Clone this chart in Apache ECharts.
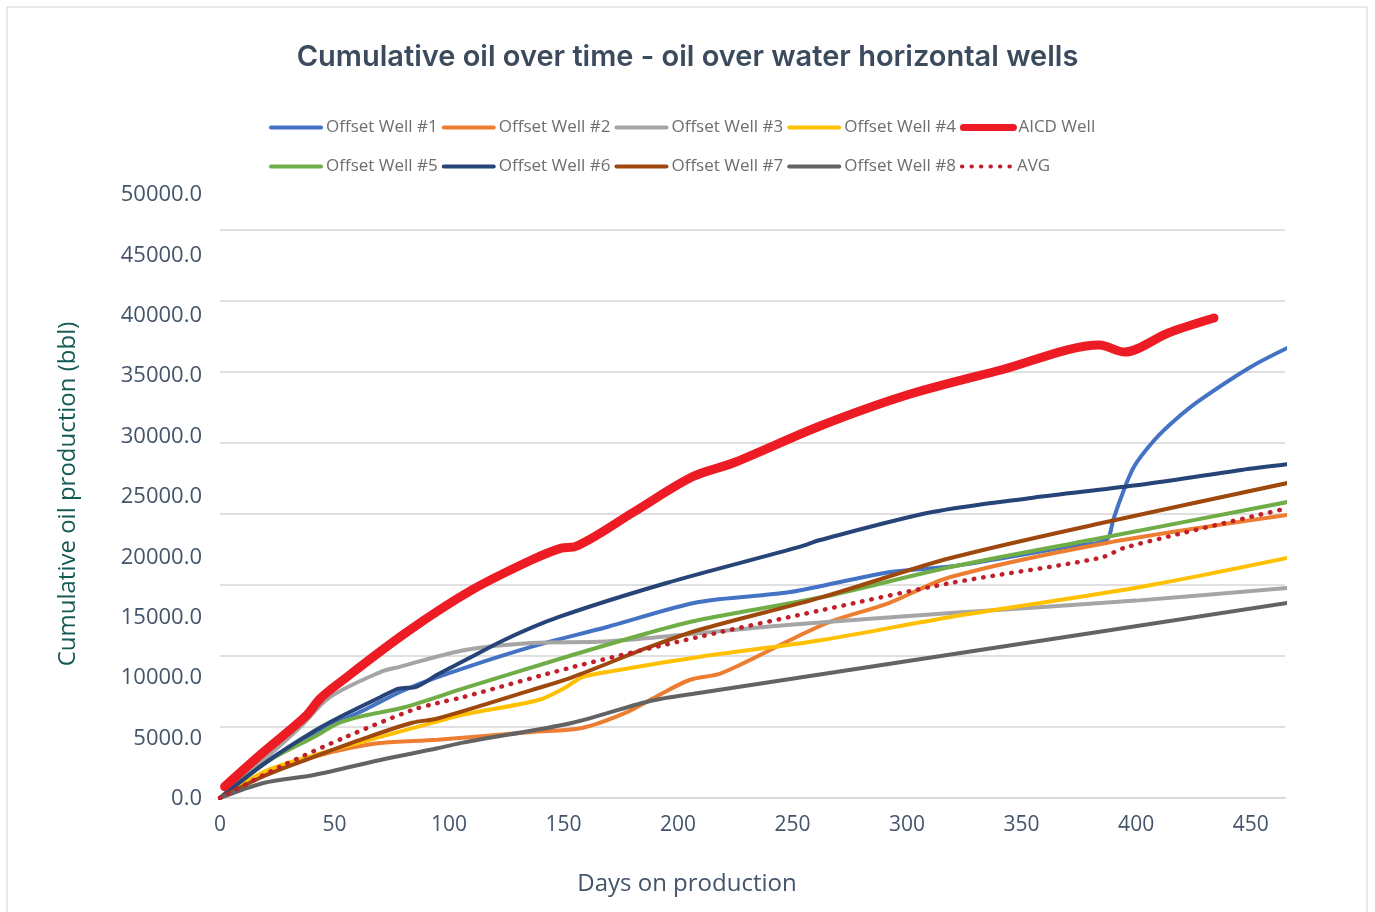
<!DOCTYPE html>
<html>
<head>
<meta charset="utf-8">
<title>Cumulative oil over time</title>
<script src="https://cdn.jsdelivr.net/npm/echarts@6.0.0/dist/echarts.min.js"></script>
<style>
  html, body { margin: 0; padding: 0; background: #fff; }
  #main { width: 1375px; height: 912px; }
</style>
</head>
<body>
<div id="main"></div>
<script>
// days on production / cumulative oil (bbl)
var well1Days = [0, 20, 41, 63, 79, 95, 134, 169, 209, 249, 292, 319, 344, 370, 387, 390, 393, 399, 408, 417, 428, 450, 466];
var well1Oil  = [0, 2500, 4580, 6200, 7500, 8520, 10560, 12040, 13800, 14500, 15900, 16300, 16950, 17700, 18170, 19580, 20990, 23310, 25210, 26620, 28030, 30350, 31690];

var well2Days = [0, 20, 41, 56, 70, 95, 136, 158, 177, 190, 205, 219, 249, 266, 292, 319, 387, 466];
var well2Oil  = [0, 1800, 2900, 3500, 3870, 4100, 4650, 4930, 5990, 7100, 8310, 8800, 11130, 12390, 13730, 15560, 17960, 19930];

var well3Days = [0, 20, 35, 48, 70, 78, 107, 136, 165, 183, 209, 249, 319, 400, 466];
var well3Oil  = [0, 2800, 5000, 7100, 8870, 9220, 10420, 10910, 11000, 11200, 11600, 12200, 13030, 13900, 14790];

var well4Days = [0, 20, 41, 70, 95, 107, 139, 151, 158, 170, 209, 263, 319, 400, 466];
var well4Oil  = [0, 1900, 3000, 4300, 5400, 5900, 6900, 7800, 8500, 8900, 9930, 11130, 12750, 14800, 16900];

var aicdDays = [2, 19, 37, 44, 52, 81, 110, 136, 149, 155, 180, 206, 224, 262, 300, 341, 384, 395, 414, 434];
var aicdOil  = [800, 3240, 5700, 7040, 8100, 11620, 14650, 16760, 17600, 17700, 20070, 22600, 23590, 26200, 28380, 30140, 31900, 31400, 32750, 33800];

var well5Days = [0, 20, 41, 52, 63, 81, 107, 151, 187, 209, 263, 319, 387, 466];
var well5Oil  = [0, 2500, 4300, 5280, 5800, 6410, 7750, 9930, 11620, 12530, 14150, 16270, 18380, 20840];

var well6Days = [0, 20, 41, 56, 70, 78, 86, 95, 107, 125, 148, 195, 253, 262, 311, 355, 399, 446, 466];
var well6Oil  = [0, 2500, 4700, 6000, 7100, 7700, 7850, 8700, 9700, 11200, 12750, 15140, 17680, 18170, 20140, 21150, 22000, 23100, 23500];

var well7Days = [0, 20, 41, 63, 84, 95, 136, 154, 187, 209, 263, 319, 387, 466];
var well7Oil  = [0, 1600, 2900, 4200, 5300, 5600, 7600, 8520, 10600, 11830, 14150, 16900, 19440, 22180];

var well8Days = [0, 19, 41, 70, 95, 106, 154, 187, 209, 319, 466];
var well8Oil  = [0, 1060, 1620, 2680, 3500, 3900, 5300, 6800, 7390, 10100, 13730];

var avgDays = [0, 26, 55, 84, 95, 106, 154, 209, 263, 319, 384, 396, 466];
var avgOil  = [0, 2180, 4300, 6200, 6690, 7100, 9220, 11340, 13240, 15140, 16900, 17680, 20400];

// axis ticks
var xTicks = { min: 0, max: 465, step: 50 };
var yGridTicks = { min: 0, max: 40000, step: 5000 };   // gridlines as drawn
var yLabelTicks = { min: 0, max: 50000, step: 5000 };  // printed labels

function pairs(days, vals) {
    var out = [];
    for (var i = 0; i < days.length; i++) out.push([days[i], vals[i]]);
    return out;
}

function wellLine(name, days, vals, color, width) {
    return {
        name: name,
        type: 'line',
        xAxisIndex: 0,
        yAxisIndex: 0,
        smooth: 0.3,
        symbol: 'none',
        showSymbol: false,
        lineStyle: { color: color, width: width, cap: 'round' },
        itemStyle: { color: color },
        data: pairs(days, vals),
        z: 3
    };
}

var chart = echarts.init(document.getElementById('main'));

var axisText = '#44546a';
var legendText = {
    color: '#6e6e6e',
    fontFamily: 'Open Sans',
    fontSize: 17,
    width: 116
};
// legend: line only, no round marker
var legendBase = {
    left: 264,
    itemWidth: 50,
    itemHeight: 14,
    itemGap: 4,
    itemStyle: { opacity: 0 },
    lineStyle: { width: 4 },
    textStyle: legendText
};

var option = {
    backgroundColor: '#fff',
    animation: false,
    title: {
        text: 'Cumulative oil over time - oil over water horizontal wells',
        left: 'center',
        top: 38,
        textStyle: {
            color: '#3b4a5c',
            fontFamily: 'Inter',
            fontWeight: 600,
            fontSize: 29
        }
    },
    legend: [
        Object.assign({}, legendBase, {
            top: 114,
            data: ['Offset Well #1', 'Offset Well #2', 'Offset Well #3', 'Offset Well #4',
                { name: 'AICD Well', lineStyle: { width: 7 } }]
        }),
        Object.assign({}, legendBase, {
            top: 153,
            data: ['Offset Well #5', 'Offset Well #6', 'Offset Well #7', 'Offset Well #8', 'AVG']
        })
    ],
    grid: [
        // plotting area, gridlines 0..40000
        { left: 220, right: 90, top: 230, bottom: 114 },
        // printed y labels, 0..50000
        { left: 220, right: 90, top: 195, bottom: 113 }
    ],
    xAxis: [{
        gridIndex: 0,
        type: 'value',
        min: xTicks.min,
        max: xTicks.max,
        interval: xTicks.step,
        axisLine: { show: true, lineStyle: { color: '#d9d9d9', width: 2 } },
        axisTick: { show: false },
        splitLine: { show: false },
        axisLabel: {
            color: axisText,
            fontFamily: 'Open Sans',
            fontSize: 21,
            margin: 17,
            showMaxLabel: false
        }
    }, {
        gridIndex: 1,
        type: 'value',
        min: 0,
        max: 1,
        show: false
    }],
    yAxis: [{
        gridIndex: 0,
        type: 'value',
        min: yGridTicks.min,
        max: yGridTicks.max,
        interval: yGridTicks.step,
        axisLine: { show: false },
        axisTick: { show: false },
        axisLabel: { show: false },
        splitLine: { lineStyle: { color: '#e0e0e0', width: 2 } }
    }, {
        gridIndex: 1,
        type: 'value',
        min: yLabelTicks.min,
        max: yLabelTicks.max,
        interval: yLabelTicks.step,
        axisLine: { show: false },
        axisTick: { show: false },
        splitLine: { show: false },
        axisLabel: {
            color: axisText,
            fontFamily: 'Open Sans',
            fontSize: 22,
            margin: 18,
            formatter: function (v) { return v.toFixed(1); }
        }
    }],
    graphic: [{
        type: 'rect',
        shape: { x: 7, y: 7, width: 1360, height: 920 },
        style: { fill: 'none', stroke: '#d0d0d0', lineWidth: 1 },
        silent: true
    }, {
        type: 'text',
        x: 68,
        y: 494,
        rotation: Math.PI / 2,
        style: {
            text: 'Cumulative oil production (bbl)',
            fill: '#145a55',
            font: '24px "Open Sans"',
            align: 'center',
            verticalAlign: 'middle'
        }
    }, {
        type: 'text',
        x: 687,
        y: 884,
        style: {
            text: 'Days on production',
            fill: axisText,
            font: '24px "Open Sans"',
            align: 'center',
            verticalAlign: 'middle'
        }
    }],
    series: [
        wellLine('Offset Well #1', well1Days, well1Oil, '#4472c4', 4),
        wellLine('Offset Well #2', well2Days, well2Oil, '#ed7d31', 4),
        wellLine('Offset Well #3', well3Days, well3Oil, '#a5a5a5', 4),
        wellLine('Offset Well #4', well4Days, well4Oil, '#ffc000', 4),
        wellLine('Offset Well #5', well5Days, well5Oil, '#70ad47', 4),
        wellLine('Offset Well #6', well6Days, well6Oil, '#264478', 4),
        wellLine('Offset Well #7', well7Days, well7Oil, '#9e480e', 4),
        wellLine('Offset Well #8', well8Days, well8Oil, '#636363', 4),
        {
            name: 'AVG',
            type: 'line',
            smooth: 0.3,
            symbol: 'none',
            showSymbol: false,
            lineStyle: { color: '#c0202a', width: 4.5, type: [0.5, 9], cap: 'round' },
            itemStyle: { color: '#c0202a' },
            data: pairs(avgDays, avgOil),
            z: 4
        },
        Object.assign(wellLine('AICD Well', aicdDays, aicdOil, '#ed1c24', 9), { z: 5 })
    ]
};

chart.setOption(option);
</script>
</body>
</html>
